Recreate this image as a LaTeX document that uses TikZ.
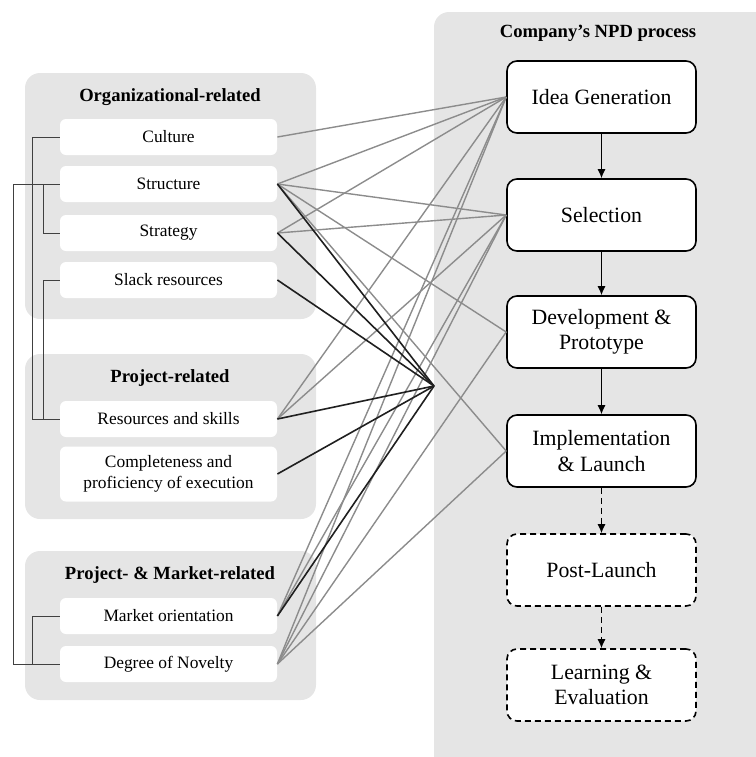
\documentclass[tikz,border=0pt]{standalone}
\usepackage{fontspec}
\setmainfont{Liberation Serif}
\usetikzlibrary{arrows.meta}

\tikzset{
  panel/.style={fill=black!10, rounded corners=7.5pt},
  factor/.style={fill=white, rounded corners=3pt, minimum width=108.5pt, minimum height=18pt, inner sep=0pt, align=center, font=\fontsize{8.7}{10.6}\selectfont},
  stage/.style={draw=black, line width=0.8pt, fill=white, rounded corners=5pt, minimum width=94.5pt, minimum height=36pt, inner sep=0pt, align=center, font=\fontsize{10.9}{12.6}\selectfont},
  laterstage/.style={stage, dash pattern=on 3pt off 2pt},
  heading/.style={font=\bfseries\fontsize{9.3}{11}\selectfont},
  link/.style={draw=black!45, line width=0.7pt},
  keylink/.style={draw=black!88, line width=0.8pt},
  bracket/.style={draw=black!75, line width=0.5pt},
  flow/.style={-{Latex[length=4.5pt,width=4pt]}, line width=0.6pt},
}

\begin{document}
\begin{tikzpicture}[x=0.5pt, y=-0.5pt]
\useasboundingbox (0,0) rectangle (756,757);

% groups
\fill[panel] (25,73) rectangle (316,319);
\fill[panel] (25,354) rectangle (316,519);
\fill[panel] (25,551) rectangle (316,700);
\fill[panel] (434,12) rectangle (800,800);

\node[heading] (orgtitle) at (170,97) {Organizational-related};
\node[heading] (projtitle) at (170,378) {Project-related};
\node[heading] (mkttitle) at (170,575) {Project- \& Market-related};
\node[heading] (npdtitle) at (598,33) {Company’s NPD process};

% factors
\node[factor] (culture) at (168.5,137) {Culture};
\node[factor] (structure) at (168.5,184) {Structure};
\node[factor] (strategy) at (168.5,233) {Strategy};
\node[factor] (slack) at (168.5,280) {Slack resources};
\node[factor] (resources) at (168.5,419) {Resources and skills};
\node[factor, minimum height=27.5pt] (completeness) at (168.5,474) {Completeness and\\proficiency of execution};
\node[factor] (market) at (168.5,616) {Market orientation};
\node[factor] (novelty) at (168.5,664) {Degree of Novelty};

% process stages
\node[stage] (idea) at (601.5,97) {Idea Generation};
\node[stage] (selection) at (601.5,215) {Selection};
\node[stage] (development) at (601.5,332) {Development \&\\Prototype};
\node[stage] (launch) at (601.5,451) {Implementation\\\& Launch};
\node[laterstage] (postlaunch) at (601.5,570) {Post-Launch};
\node[laterstage] (learning) at (601.5,685) {Learning \&\\Evaluation};

\coordinate (hub) at (434,386);

% links to single stages
\draw[link] (culture.east) -- (idea.west);
\draw[link] (structure.east) -- (idea.west);
\draw[link] (strategy.east) -- (idea.west);
\draw[link] (resources.east) -- (idea.west);
\draw[link] (market.east) -- (idea.west);
\draw[link] (novelty.east) -- (idea.west);

\draw[link] (structure.east) -- (selection.west);
\draw[link] (strategy.east) -- (selection.west);
\draw[link] (resources.east) -- (selection.west);
\draw[link] (market.east) -- (selection.west);
\draw[link] (novelty.east) -- (selection.west);

\draw[link] (structure.east) -- (development.west);
\draw[link] (novelty.east) -- (development.west);
\draw[link] (structure.east) -- (launch.west);
\draw[link] (novelty.east) -- (launch.west);

% links to the whole process
\draw[keylink] (structure.east) -- (hub);
\draw[keylink] (strategy.east) -- (hub);
\draw[keylink] (slack.east) -- (hub);
\draw[keylink] (resources.east) -- (hub);
\draw[keylink] (completeness.east) -- (hub);
\draw[keylink] (market.east) -- (hub);

\draw[flow] (idea) -- (selection);
\draw[flow] (selection) -- (development);
\draw[flow] (development) -- (launch);
\draw[flow, dash pattern=on 3pt off 2pt] (launch) -- (postlaunch);
\draw[flow, dash pattern=on 3pt off 2pt] (postlaunch) -- (learning);

% brackets
\draw[bracket] (culture.west) -- ++(-27,0) |- (resources.west);
\draw[bracket] (strategy.west) -- ++(-16,0) |- (structure.west);
\draw[bracket] (slack.west) -- ++(-16,0) |- (resources.west);
\draw[bracket] (structure.west) -- ++(-46,0) |- (novelty.west);
\draw[bracket] (market.west) -- ++(-27,0) |- (novelty.west);

\end{tikzpicture}
\end{document}
